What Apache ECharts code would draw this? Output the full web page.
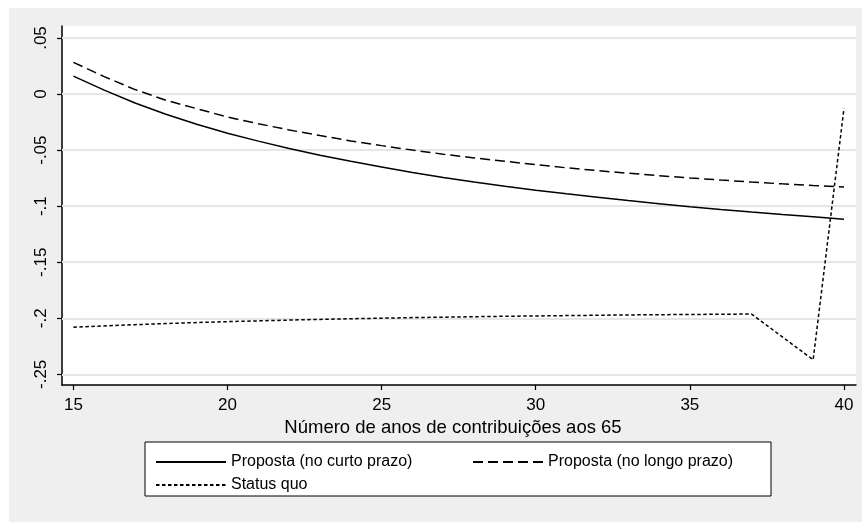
<!DOCTYPE html>
<html>
<head>
<meta charset="utf-8">
<script src="https://cdn.jsdelivr.net/npm/echarts@6/dist/echarts.min.js"></script>
<style>
html,body{margin:0;padding:0;background:#ffffff;}
#wrap{position:absolute;left:9px;top:8px;width:853px;height:514px;}
</style>
</head>
<body>
<div id="wrap"></div>
<script>
// ---- data ----
var years = [15,16,17,18,19,20,21,22,23,24,25,26,27,28,29,30,31,32,33,34,35,36,37,38,39,40];
var curtoPrazo = [0.016,0.0035,-0.008,-0.018,-0.027,-0.035,-0.042,-0.0485,-0.0545,-0.060,-0.0650,-0.070,-0.0745,-0.0785,-0.0823,-0.0857,-0.089,-0.092,-0.095,-0.0978,-0.1005,-0.1029,-0.1052,-0.1074,-0.1095,-0.1116];
var longoPrazo = [0.0283,0.0155,0.0040,-0.0055,-0.0130,-0.0205,-0.0265,-0.0320,-0.0370,-0.0418,-0.0460,-0.0500,-0.0536,-0.0570,-0.0600,-0.0630,-0.0658,-0.0683,-0.0706,-0.0728,-0.0748,-0.0767,-0.0785,-0.0801,-0.0816,-0.0830];
var statusQuo = [-0.208,-0.2068,-0.2057,-0.2047,-0.2038,-0.2030,-0.2023,-0.2016,-0.2010,-0.2004,-0.1999,-0.1994,-0.1990,-0.1986,-0.1982,-0.1979,-0.1976,-0.1973,-0.1970,-0.1968,-0.1966,-0.1964,-0.1962,-0.2166,-0.2370,-0.0128];
var seriesNames = ['Proposta (no curto prazo)','Proposta (no longo prazo)','Status quo'];
var xTicks = [15,20,25,30,35,40];
var yTicks = [-0.25,-0.2,-0.15,-0.1,-0.05,0,0.05];
var yTickLabels = ['-.25','-.2','-.15','-.1','-.05','0','.05'];
var xTitle = 'Número de anos de contribuições aos 65';

function pairs(xs, ys){ return xs.map(function(x,i){ return [x, ys[i]]; }); }

var FONT = '"Liberation Sans", Arial, Helvetica, sans-serif';
var chart = echarts.init(document.getElementById('wrap'), null, {renderer:'canvas'});
var legendCommon = {padding: 0, itemWidth: 70, itemHeight: 14, itemGap: 8, selectedMode: false,
  itemStyle: {opacity: 0}, textStyle: {fontSize: 16, color: '#000', fontFamily: FONT}};
var option = {
  backgroundColor: '#efefef',
  animation: false,
  textStyle: {fontFamily: FONT, color: '#000'},
  grid: {left: 53, top: 18, right: 6, bottom: 137, show: true, backgroundColor: '#ffffff', borderWidth: 0},
  xAxis: {
    type: 'value', min: 14.63, max: 40.39,
    axisLine: {show: true, onZero: false, lineStyle: {color: '#000', width: 1.5}},
    axisTick: {show: true, length: 5, customValues: xTicks, lineStyle: {color: '#000', width: 1.2}},
    axisLabel: {customValues: xTicks, margin: 12, fontSize: 17, color: '#000', fontFamily: FONT},
    splitLine: {show: false},
    name: xTitle, nameLocation: 'middle', nameGap: 31,
    nameTextStyle: {fontSize: 18.5, color: '#000', fontFamily: FONT, padding: [0, 12, 0, 0]}
  },
  yAxis: {
    type: 'value', min: -0.2595, max: 0.0607,
    axisLine: {show: true, onZero: false, lineStyle: {color: '#000', width: 1.5}},
    axisTick: {show: true, length: 5, customValues: yTicks, lineStyle: {color: '#000', width: 1.2}},
    axisLabel: {customValues: yTicks, rotate: 90, margin: 12, fontSize: 17, color: '#000', fontFamily: FONT,
      formatter: function(v){ var i = yTicks.findIndex(function(t){ return Math.abs(t - v) < 1e-9; }); return i >= 0 ? yTickLabels[i] : ''; }},
    splitLine: {show: false}
  },
  graphic: [{
    type: 'rect', z: 0, silent: true,
    shape: {x: 136, y: 434, width: 626, height: 54},
    style: {fill: '#ffffff', stroke: '#000', lineWidth: 1}
  }],
  legend: [
    Object.assign({data: [seriesNames[0]], left: 146, top: 446}, legendCommon),
    Object.assign({data: [seriesNames[1]], left: 463, top: 446}, legendCommon),
    Object.assign({data: [seriesNames[2]], left: 146, top: 469}, legendCommon)
  ],
  series: [
    {
      name: 'grid', type: 'line', data: [], z: 1, silent: true,
      markLine: {silent: true, z: 1, symbol: 'none', label: {show: false}, animation: false,
        lineStyle: {color: '#e6e6e6', width: 2, type: 'solid'},
        data: yTicks.map(function(v){ return {yAxis: v}; })}
    },
    {name: seriesNames[0], type: 'line', data: pairs(years, curtoPrazo), symbol: 'none', z: 3,
     lineStyle: {color: '#000', width: 1.5, type: 'solid'}, itemStyle: {color: '#000'}},
    {name: seriesNames[1], type: 'line', data: pairs(years, longoPrazo), symbol: 'none', z: 3,
     lineStyle: {color: '#000', width: 1.5, type: [10, 5]}, itemStyle: {color: '#000'}},
    {name: seriesNames[2], type: 'line', data: pairs(years, statusQuo), symbol: 'none', z: 3,
     lineStyle: {color: '#000', width: 1.5, type: [3.5, 2.5]}, itemStyle: {color: '#000'}}
  ]
};
chart.setOption(option);
</script>
</body>
</html>
